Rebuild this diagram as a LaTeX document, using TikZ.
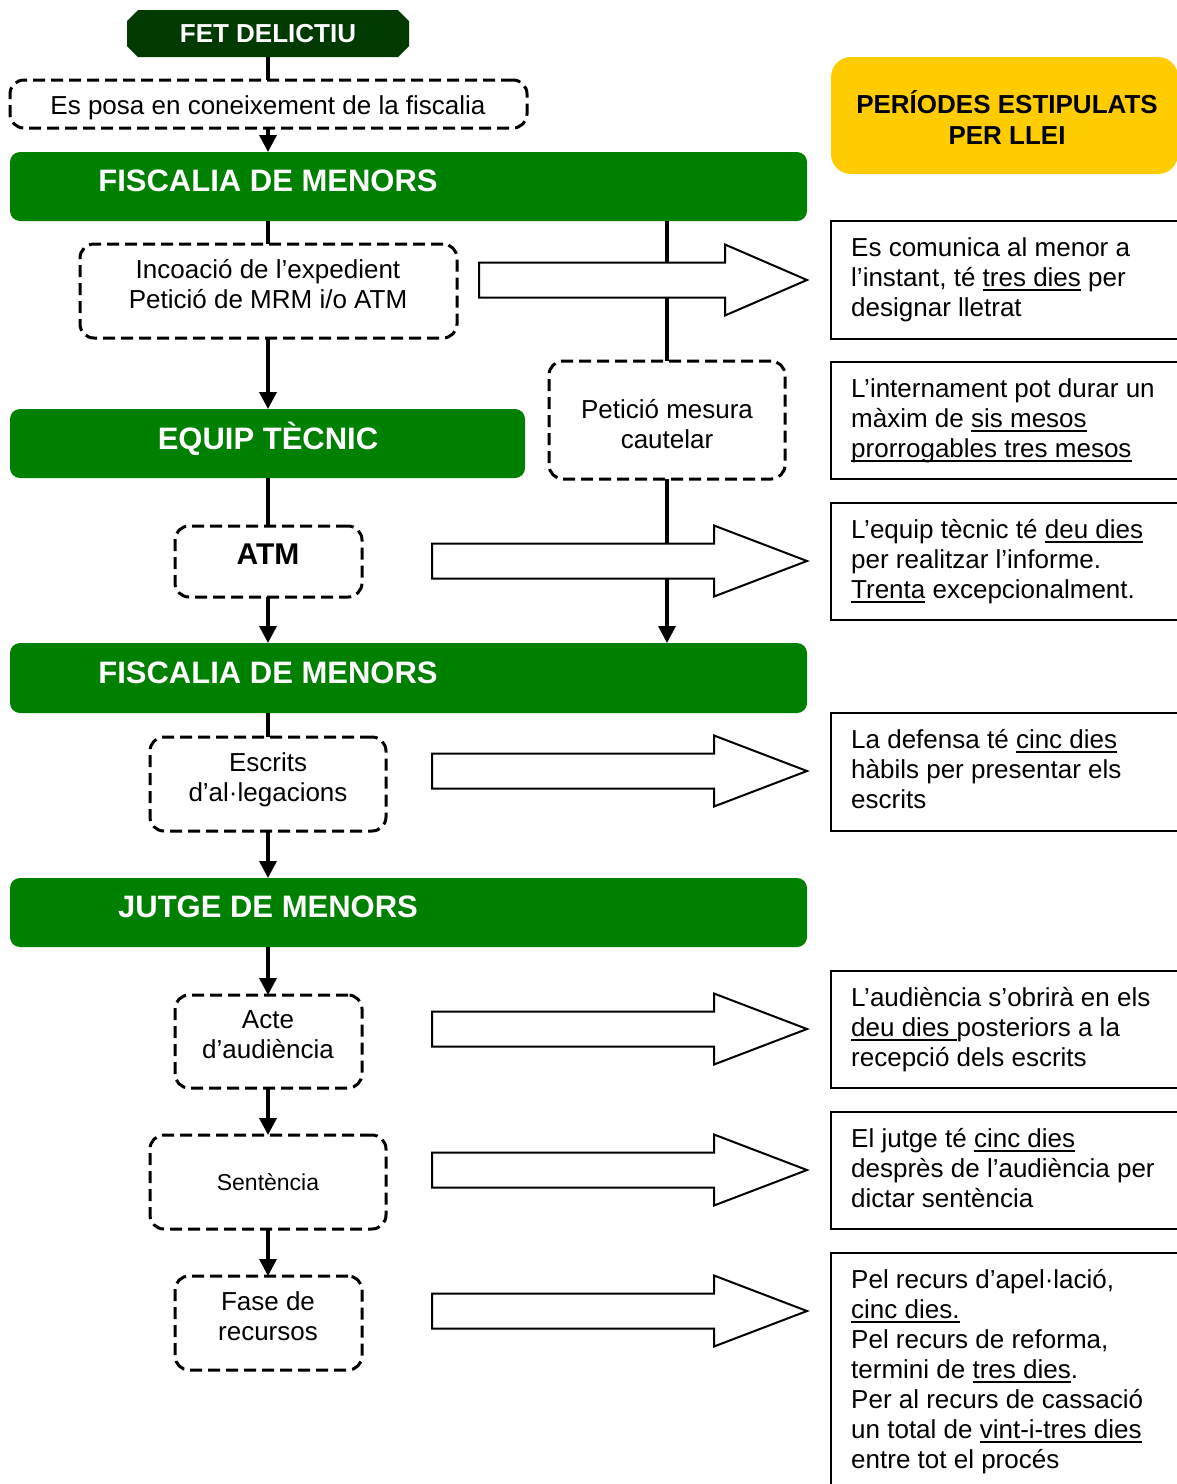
\documentclass[tikz,border=0pt]{standalone}
\usepackage{fontspec}
\setmainfont{Liberation Sans}
\usetikzlibrary{arrows.meta}
\definecolor{hgreen}{RGB}{0,128,0}
\definecolor{dgreen}{RGB}{0,58,0}
\definecolor{hyellow}{RGB}{255,204,0}
\newcommand\undl[1]{\setbox0\hbox{#1}\rlap{\rule[-4.5pt]{\wd0}{1.8pt}}\box0\relax}
\newcommand\fsz[1]{\fontsize{#1pt}{30pt}\selectfont\lineskiplimit=-100pt}
\newcommand\tst{\rule{0pt}{25pt}}
\newcommand\bigarr[4]{\draw[bigarrow] (#1,#4-17.5) -- (#2,#4-17.5) -- (#2,#4-35.5) -- (#3,#4) -- (#2,#4+35.5) -- (#2,#4+17.5) -- (#1,#4+17.5) -- cycle;}
\tikzset{
 hdr/.style={fill=hgreen, rounded corners=10pt, inner sep=0pt, outer sep=0pt},
 htxt/.style={text=white, font={\bfseries\fsz{31}}, anchor=base, inner sep=0pt},
 dbox/.style={draw, line width=3pt, dash pattern=on 12pt off 6pt, rounded corners=14pt, inner sep=0pt, outer sep=0pt},
 btxt/.style={font={\fsz{26}}, align=center, anchor=north, inner sep=0pt},
 rbox/.style={draw, line width=2pt, inner sep=0pt, outer sep=0pt},
 rtxt/.style={font={\fsz{26}}, align=left, anchor=north west, inner sep=0pt},
 link/.style={line width=3.5pt},
 flow/.style={link, -{Triangle[width=17pt,length=17pt]}},
 bigarrow/.style={draw, line width=2pt, fill=white, line join=miter},
}
\begin{document}
\begin{tikzpicture}[x=1pt,y=-1pt]
\useasboundingbox (0,0) rectangle (1177,1484);
\clip (0,0) rectangle (1177,1484);
\coordinate (axis) at (268,0);
% left column
\fill[dgreen] (138,10) -- (398,10) -- (409,21) -- (409,46) -- (398,57) -- (138,57) -- (127,46) -- (127,21) -- cycle;
\node[minimum width=282pt, minimum height=47pt, inner sep=0pt, outer sep=0pt, text=white, font={\bfseries\fsz{26}}] (fet) at (268,33.5) {FET DELICTIU};
\node[dbox, minimum width=517pt, minimum height=48pt] (fisc) at (268.5,104) {};
\node[btxt, anchor=base] (fisct) at (268,114) {Es posa en coneixement de la fiscalia};
\node[hdr, minimum width=797pt, minimum height=69pt] (fm1) at (408.5,186.5) {};
\node[htxt] (fm1t) at (268,191) {FISCALIA DE MENORS};
\node[dbox, minimum width=377pt, minimum height=94pt] (inc) at (268.5,291) {};
\node[btxt] (inct) at (268,253) {\tst Incoació de l’expedient\\Petició de MRM i/o ATM};
\node[hdr, minimum width=515pt, minimum height=69pt] (eq) at (267.5,443.5) {};
\node[htxt] (eqt) at (268,449) {EQUIP TÈCNIC};
\node[dbox, minimum width=236pt, minimum height=118pt] (pet) at (667,420) {};
\node[btxt] (pett) at (667,393) {\tst Petició mesura\\cautelar};
\node[dbox, minimum width=187pt, minimum height=71pt] (atm) at (268.5,561.5) {};
\node[htxt, text=black, font={\bfseries\fsz{30}}] (atmt) at (268,564.5) {ATM};
\node[hdr, minimum width=797pt, minimum height=70pt] (fm2) at (408.5,678) {};
\node[htxt] (fm2t) at (268,683) {FISCALIA DE MENORS};
\node[dbox, minimum width=236pt, minimum height=94pt] (esc) at (268,784) {};
\node[btxt] (esct) at (268,746) {\tst Escrits\\d’al·legacions};
\node[hdr, minimum width=797pt, minimum height=69pt] (jm) at (408.5,912.5) {};
\node[htxt] (jmt) at (268,917) {JUTGE DE MENORS};
\node[dbox, minimum width=187pt, minimum height=93pt] (acte) at (268.5,1041.5) {};
\node[btxt] (actet) at (268,1003) {\tst Acte\\d’audiència};
\node[dbox, minimum width=236pt, minimum height=94pt] (sent) at (268,1182) {};
\node[btxt, anchor=base, font={\fsz{23}}] (sentt) at (268,1190) {Sentència};
\node[dbox, minimum width=187pt, minimum height=94pt] (fase) at (268.5,1323) {};
\node[btxt] (faset) at (268,1285) {\tst Fase de\\recursos};
% connectors
\draw[link] (fet.south) -- (fet.south |- fisc.north);
\draw[flow] (fisc.south -| axis) -- (fm1.north -| axis);
\draw[link] (fm1.south -| axis) -- (inc.north -| axis);
\draw[link] (fm1.south -| pet.north) -- (pet.north);
\draw[flow] (inc.south -| axis) -- (eq.north -| axis);
\draw[link] (eq.south -| axis) -- (atm.north -| axis);
\draw[flow] (atm.south -| axis) -- (fm2.north -| axis);
\draw[flow] (pet.south) -- (fm2.north -| pet.south);
\draw[link] (fm2.south -| axis) -- (esc.north -| axis);
\draw[flow] (esc.south -| axis) -- (jm.north -| axis);
\draw[flow] (jm.south -| axis) -- (acte.north -| axis);
\draw[flow] (acte.south -| axis) -- (sent.north -| axis);
\draw[flow] (sent.south -| axis) -- (fase.north -| axis);
% big arrows
\bigarr{479}{725}{807}{280}
\bigarr{432}{714}{807}{561}
\bigarr{432}{714}{807}{771}
\bigarr{432}{714}{807}{1029}
\bigarr{432}{714}{807}{1170}
\bigarr{432}{714}{807}{1311}
% right column
\node[fill=hyellow, rounded corners=20pt, minimum width=347pt, minimum height=117pt, inner sep=0pt, outer sep=0pt] (per) at (1004.5,115.5) {};
\node[font={\bfseries\fontsize{26pt}{31pt}\selectfont\lineskiplimit=-100pt}, align=center, anchor=north, inner sep=0pt] (pert) at (1007,88) {\tst PERÍODES ESTIPULATS\\PER LLEI};
\node[rbox, minimum width=354pt, minimum height=118pt] (r1) at (1008,280) {};
\node[rtxt] (r1t) at (851,231) {\tst Es comunica al menor a\\l’instant, té \undl{tres dies} per\\designar lletrat};
\node[rbox, minimum width=354pt, minimum height=117pt] (r2) at (1008,420.5) {};
\node[rtxt] (r2t) at (851,372) {\tst L’internament pot durar un\\màxim de \undl{sis mesos}\\\undl{prorrogables tres mesos}};
\node[rbox, minimum width=354pt, minimum height=117pt] (r3) at (1008,561.5) {};
\node[rtxt] (r3t) at (851,513) {\tst L’equip tècnic té \undl{deu dies}\\per realitzar l’informe.\\\undl{Trenta} excepcionalment.};
\node[rbox, minimum width=354pt, minimum height=118pt] (r4) at (1008,772) {};
\node[rtxt] (r4t) at (851,723) {\tst La defensa té \undl{cinc dies}\\hàbils per presentar els\\escrits};
\node[rbox, minimum width=354pt, minimum height=117pt] (r5) at (1008,1029.5) {};
\node[rtxt] (r5t) at (851,981) {\tst L’audiència s’obrirà en els\\\undl{deu dies }posteriors a la\\recepció dels escrits};
\node[rbox, minimum width=354pt, minimum height=117pt] (r6) at (1008,1170.5) {};
\node[rtxt] (r6t) at (851,1122) {\tst El jutge té \undl{cinc dies}\\desprès de l’audiència per\\dictar sentència};
\node[rbox, minimum width=354pt, minimum height=250pt] (r7) at (1008,1378) {};
\node[rtxt] (r7t) at (851,1263) {\tst Pel recurs d’apel·lació,\\\undl{cinc dies.}\\Pel recurs de reforma,\\termini de \undl{tres dies}.\\Per al recurs de cassació\\un total de \undl{vint-i-tres dies}\\entre tot el procés};
\end{tikzpicture}
\end{document}
